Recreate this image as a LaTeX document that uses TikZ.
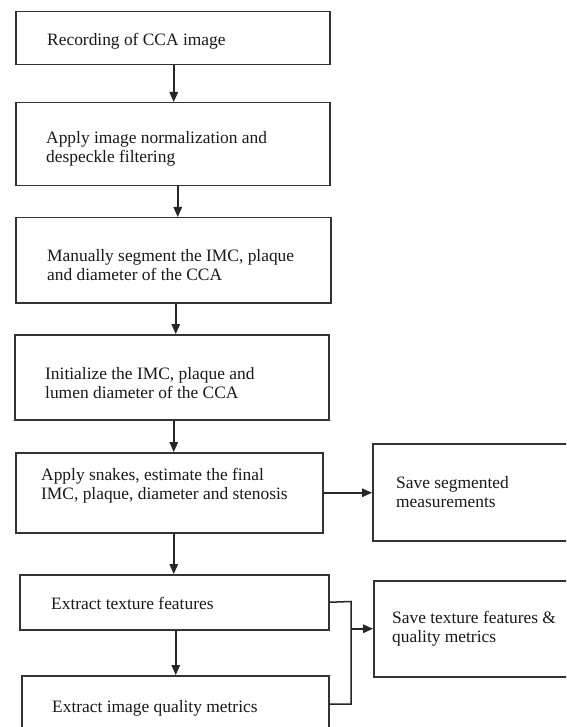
\documentclass[tikz,border=0pt]{standalone}
\usepackage{fontspec}
\setmainfont{Liberation Serif}
\usetikzlibrary{arrows.meta}
\begin{document}
\begin{tikzpicture}[x=1pt,y=-1pt,
  box/.style={draw=black!80,line width=1.5pt,rectangle,inner sep=0pt,anchor=north west},
  txt/.style={anchor=west,inner sep=0pt,align=left,text=black!90,font=\fontsize{17.4}{19}\selectfont},
  conn/.style={draw=black!85,line width=1.5pt,line join=miter},
  arr/.style={conn,-{Triangle[length=10pt,width=8.5pt]}}]
\clip (0,0) rectangle (566,727);
\fill[white] (0,0) rectangle (566,727);
% boxes
\node[box,minimum width=314pt,minimum height=53pt] (b1) at (15,11) {};
\node[box,minimum width=314pt,minimum height=83pt] (b2) at (15,102) {};
\node[box,minimum width=315pt,minimum height=85pt] (b3) at (15,217) {};
\node[box,minimum width=314pt,minimum height=85pt] (b4) at (14,334) {};
\node[box,minimum width=307pt,minimum height=80pt] (b5) at (15,452) {};
\node[box,minimum width=228pt,minimum height=97pt] (b6) at (372,443) {};
\node[box,minimum width=309pt,minimum height=55pt] (b7) at (19,574) {};
\node[box,minimum width=307pt,minimum height=65pt] (b8) at (21,675) {};
\node[box,minimum width=227pt,minimum height=96pt] (b9) at (373,580) {};
% texts
\node[txt] (t1) at (47,41) {Recording of CCA image};
\node[txt] (t2) at (46,149) {Apply image normalization and\\despeckle filtering};
\node[txt] (t3) at (47,265.5) {Manually segment the IMC, plaque\\and diameter of the CCA};
\node[txt] (t4) at (45,383.5) {Initialize the IMC, plaque and\\lumen diameter of the CCA};
\node[txt] (t5) at (41,485.5) {Apply snakes, estimate the final\\IMC, plaque, diameter and stenosis};
\node[txt] (t6) at (396,492) {Save segmented\\measurements};
\node[txt] (t7) at (51,603) {Extract texture features};
\node[txt] (t8) at (52,708) {Extract image quality metrics};
\node[txt] (t9) at (392,629) {Save texture features \&\\quality metrics};
% connectors
\draw[arr] ([xshift=1pt]b1.south) -- ([xshift=1pt]b1.south |- b2.north);
\draw[arr] ([xshift=5pt]b2.south) -- ([xshift=5pt]b2.south |- b3.north);
\draw[arr] ([xshift=2.5pt]b3.south) -- ([xshift=2.5pt]b3.south |- b4.north);
\draw[arr] ([xshift=2pt]b4.south) -- ([xshift=2pt]b4.south |- b5.north);
\draw[arr] ([xshift=4.5pt]b5.south) -- ([xshift=4.5pt]b5.south |- b7.north);
\draw[arr] ([xshift=1.5pt]b7.south) -- ([xshift=1.5pt]b7.south |- b8.north);
\draw[arr] (b5.east) -- (b5.east -| b6.west);
\coordinate (jt) at (351,601.5);
\coordinate (jb) at (351,704);
\draw[conn] (b7.east) -- (jt) -- (jb) -- (b8.east |- jb);
\draw[arr] (jt |- b9.west) -- (b9.west);
\end{tikzpicture}
\end{document}
